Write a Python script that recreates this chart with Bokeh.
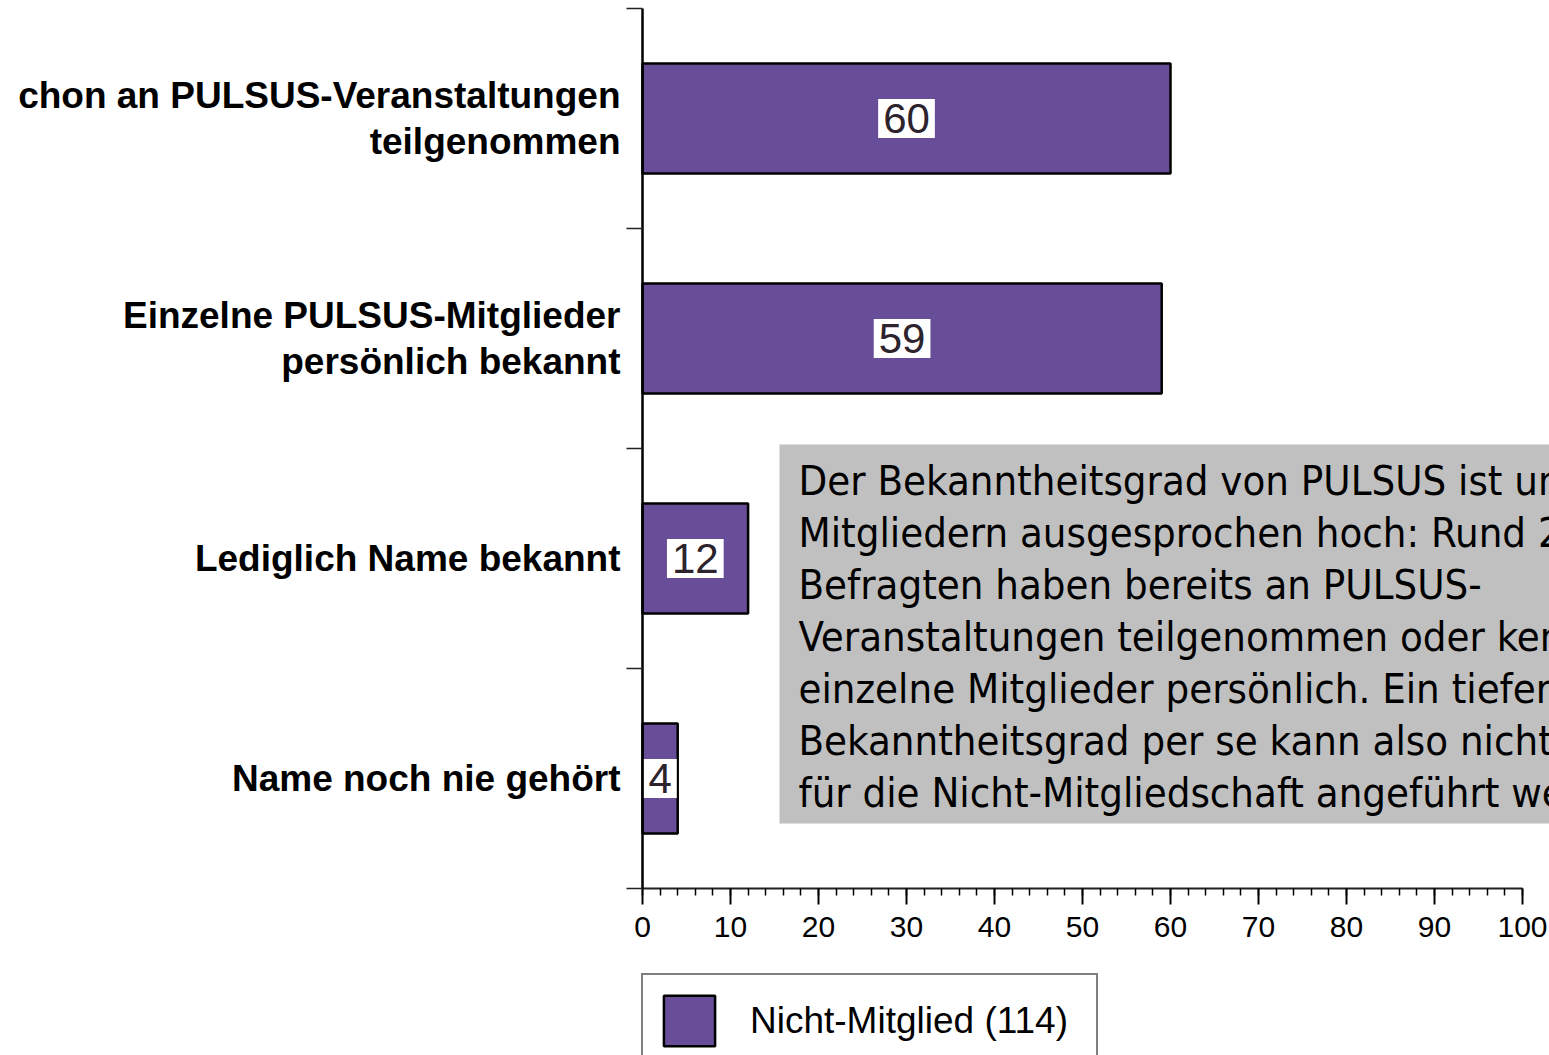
from bokeh.plotting import figure
from bokeh.models import (ColumnDataSource, Range1d, FixedTicker, SingleIntervalTicker,
                          Label, BoxAnnotation, Legend, LegendItem)
from bokeh.core.properties import value
from bokeh.embed import file_html
from bokeh.resources import INLINE

# ---- data ----
categories = [
    "chon an PULSUS-Veranstaltungen\nteilgenommen",
    "Einzelne PULSUS-Mitglieder\npersönlich bekannt",
    "Lediglich Name bekannt",
    "Name noch nie gehört",
]
values = [60, 59, 12, 4]
series_name = "Nicht-Mitglied (114)"
note_lines = [
    "Der Bekanntheitsgrad von PULSUS ist unter",
    "Mitgliedern ausgesprochen hoch: Rund 2/3",
    "Befragten haben bereits an PULSUS-",
    "Veranstaltungen teilgenommen oder kennen",
    "einzelne Mitglieder persönlich. Ein tiefer",
    "Bekanntheitsgrad per se kann also nicht",
    "für die Nicht-Mitgliedschaft angeführt werden",
]

# ---- styling / layout ----
BAR = "#684d98"
W, H = 1549, 1055
AXIS_X = 642            # pixel column of the category axis
TOP = 8
AXIS_Y = 888            # pixel row of the value axis
PX_X = 8.8              # pixels per percent
PX_Y = 220              # pixels per category band
n = len(categories)
x_start = -AXIS_X / PX_X
x_end = (W - AXIS_X) / PX_X
y_start = -(H - AXIS_Y) / PX_Y
y_end = n + TOP / PX_Y

ypos = [n - i - 0.5 for i in range(n)]
src = ColumnDataSource(dict(y=ypos, v=values, mid=[v / 2 for v in values],
                            lab=[str(v) for v in values]))

p = figure(width=W, height=H, output_backend="svg", toolbar_location=None,
           x_range=Range1d(x_start, x_end), y_range=Range1d(y_start, y_end),
           min_border_left=0, min_border_right=0, min_border_top=0,
           min_border_bottom=0)
p.outline_line_color = None
p.grid.visible = False
p.background_fill_color = "white"
p.border_fill_color = "white"

bars = p.hbar(y="y", right="v", left=0, height=0.5, source=src,
              fill_color=BAR, line_color="black", line_width=2.5)

# x axis (fixed at y = 0)
xa = p.xaxis[0]
xa.fixed_location = 0
xa.ticker = SingleIntervalTicker(interval=10, num_minor_ticks=5)
xa.bounds = (0, 100)
xa.axis_line_width = 2
xa.axis_line_color = "#222222"
xa.major_tick_in = 0
xa.major_tick_out = 16
xa.major_tick_line_width = 2
xa.minor_tick_in = 0
xa.minor_tick_out = 7
xa.minor_tick_line_width = 1.5
xa.major_label_text_font = "Liberation Sans"
xa.major_label_text_font_size = "30px"
xa.major_label_text_color = "black"
xa.major_label_standoff = 12

# y axis (fixed at x = 0)
ya = p.yaxis[0]
ya.fixed_location = 0
ya.bounds = (0, n)
ya.ticker = FixedTicker(ticks=ypos, minor_ticks=list(range(n + 1)))
ya.major_label_overrides = {y: c for y, c in zip(ypos, categories)}
ya.axis_line_width = 2.5
ya.axis_line_color = "black"
ya.major_tick_in = 0
ya.major_tick_out = 0
ya.minor_tick_in = 0
ya.minor_tick_out = 16
ya.minor_tick_line_width = 1.5
ya.minor_tick_line_color = "#222222"
ya.major_label_standoff = 6
ya.major_label_text_font = "Liberation Sans"
ya.major_label_text_font_style = "bold"
ya.major_label_text_font_size = "37px"
ya.major_label_text_line_height = 1.1
ya.major_label_text_color = "black"

# value labels
p.text(x="mid", y="y", text="lab", source=src,
       text_align="center", text_baseline="middle",
       text_font=value("Liberation Sans"), text_font_size=value("42px"),
       text_color="#2d232d", background_fill_color="white", padding=5)

# note box
box_left = (779 - AXIS_X) / PX_X
box_top = (AXIS_Y - 444) / PX_Y
box_bottom = (AXIS_Y - 823) / PX_Y
p.add_layout(BoxAnnotation(left=box_left, right=x_end + 5, top=box_top, bottom=box_bottom,
                           fill_color="#c0c0c0", fill_alpha=1, line_color=None))
tx = (798 - AXIS_X) / PX_X
for i, line in enumerate(note_lines):
    p.add_layout(Label(x=tx, y=(AXIS_Y - 480 - 52 * i) / PX_Y, text=line,
                       text_font="DejaVu Sans Condensed", text_font_size="41.5px",
                       text_color="black", text_baseline="alphabetic",
                       text_align="left"))

# legend
legend = Legend(items=[LegendItem(label=series_name, renderers=[bars])],
                location=(AXIS_X - 1, -13), orientation="vertical",
                border_line_color="black", border_line_width=2,
                background_fill_color="white", background_fill_alpha=1,
                padding=14, margin=0, glyph_width=64, glyph_height=63,
                label_standoff=29, label_width=332, label_height=63,
                label_text_font="Liberation Sans", label_text_font_size="37px",
                label_text_color="black")
p.add_layout(legend, "center")

open("out.html", "w").write(file_html(p, INLINE))
